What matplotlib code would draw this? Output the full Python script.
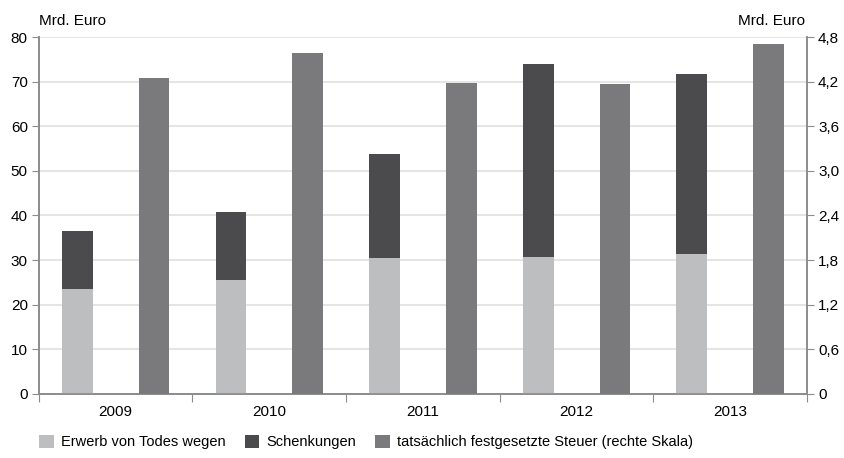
import numpy as np
import matplotlib
matplotlib.use("Agg")
import matplotlib.pyplot as plt  # noqa: E402

plt.rcParams["font.family"] = ["Liberation Sans", "DejaVu Sans"]

years = ["2009", "2010", "2011", "2012", "2013"]
erwerb = [23.5, 25.5, 30.5, 30.7, 31.4]
schenkungen = [13.0, 15.3, 23.3, 43.3, 40.4]
steuer = [4.25, 4.58, 4.18, 4.17, 4.71]

C_LIGHT = "#bdbec0"
C_DARK = "#4b4b4d"
C_MID = "#7a7a7c"
C_AX = "#8c8c8c"

fig = plt.figure(figsize=(8.45, 4.58), dpi=100)
ax = fig.add_axes([0.046, 0.140, 0.909, 0.779])
ax2 = ax.twinx()

x = np.arange(len(years))
w = 0.2
ax.bar(x - 0.25, erwerb, w, color=C_LIGHT, label="Erwerb von Todes wegen", zorder=3)
ax.bar(x - 0.25, schenkungen, w, bottom=erwerb, color=C_DARK, label="Schenkungen", zorder=3)
ax2.bar(x + 0.25, steuer, w, color=C_MID,
        label="tatsächlich festgesetzte Steuer (rechte Skala)", zorder=3)

ax.set_xlim(-0.5, len(years) - 0.5)
ax.set_ylim(0, 80)
ax.set_yticks(range(0, 81, 10))
ax2.set_ylim(0, 4.8)
r_ticks = np.arange(0, 4.81, 0.6)
ax2.set_yticks(r_ticks)
ax2.set_yticklabels(["0" if t == 0 else f"{t:.1f}".replace(".", ",") for t in r_ticks])

ax.grid(axis="y", color="#e0e0e0", lw=1.2, zorder=0)
ax.set_axisbelow(True)

# year labels centred, ticks on group boundaries
ax.set_xticks(np.arange(-0.5, len(years), 1.0))
ax.set_xticklabels([])
ax.set_xticks(x, minor=True)
ax.set_xticklabels(years, minor=True)
ax.tick_params(axis="x", which="minor", length=0, pad=8, labelsize=11)
ax.tick_params(axis="x", which="major", length=6, color=C_AX, direction="out")
ax.tick_params(axis="y", length=5, color=C_AX, labelsize=11, pad=3)
ax2.tick_params(axis="y", length=5, color=C_AX, labelsize=11, pad=3)

for a in (ax, ax2):
    a.spines["top"].set_visible(False)
    for s in ("left", "right", "bottom"):
        a.spines[s].set_color(C_AX)
        a.spines[s].set_linewidth(1.2)

fig.text(0.046, 0.955, "Mrd. Euro", fontsize=11, ha="left", va="center")
fig.text(0.953, 0.955, "Mrd. Euro", fontsize=11, ha="right", va="center")

h1, l1 = ax.get_legend_handles_labels()
h2, l2 = ax2.get_legend_handles_labels()
fig.legend(h1 + h2, l1 + l2, loc="lower left", bbox_to_anchor=(0.031, -0.01),
           ncol=3, frameon=False, fontsize=10.5, handlelength=1.0, handleheight=1.0,
           handletextpad=0.5, columnspacing=1.3)

fig.savefig("out.png", dpi=100)
